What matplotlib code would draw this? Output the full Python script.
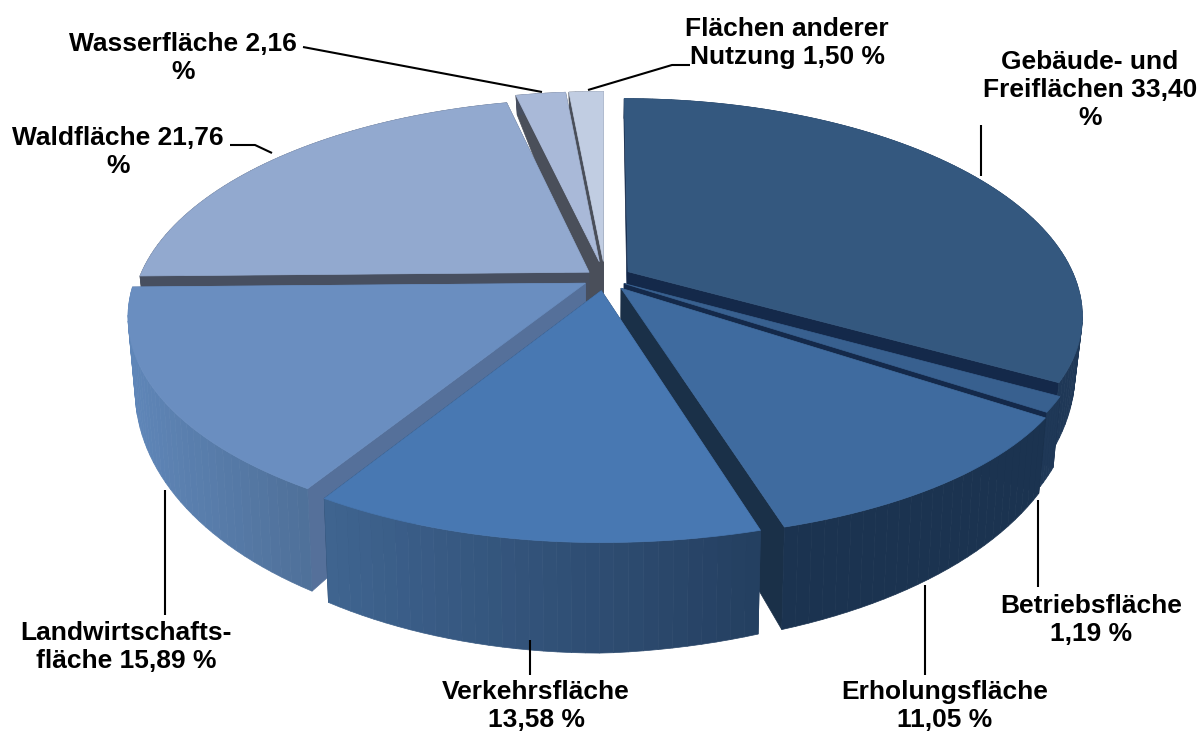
import numpy as np
import matplotlib
matplotlib.use("Agg")
import matplotlib.pyplot as plt
from matplotlib.colors import to_rgb

labels = ["Gebäude- und\nFreiflächen 33,40\n%", "Betriebsfläche\n1,19 %", "Erholungsfläche\n11,05 %",
          "Verkehrsfläche\n13,58 %", "Landwirtschafts-\nfläche 15,89 %", "Waldfläche 21,76\n%",
          "Wasserfläche 2,16\n%", "Flächen anderer\nNutzung 1,50 %"]
values = [33.40, 1.19, 11.05, 13.58, 15.89, 21.76, 2.16, 1.50]
explode = [0.06, 0.05, 0.06, 0.06, 0.05, 0.045, 0.08, 0.08]
top_colors = ["#34587F", "#38608F", "#3F6B9F", "#4878B2", "#6A8EC0", "#92A9CF", "#A9B9D8", "#C1CDE2"]
rim_a = ["#1F3857", "#1F3857", "#1B3350", "#3F6490", "#5F86B8", "#474F60", "#474F60", "#4A4F5A"]
rim_b = ["#1F3857", "#1F3857", "#1B3350", "#243F60", "#4F7099", "#474F60", "#474F60", "#4A4F5A"]
wall_colors = ["#14294A", "#14294A", "#1A3048", "#263F5E", "#55709A", "#474F60", "#4A4F5A", "#4A4F5A"]

label_pos = [(1090, 90), (1091, 620), (945, 706), (536, 706), (126, 647), (118, 152), (183, 58), (787, 43)]
leaders = [[(981, 125), (981, 176)], [(1038, 500), (1038, 587)], [(925, 585), (925, 675)], [(530, 640), (530, 675)],
           [(165, 490), (165, 615)], [(230, 145), (255, 145), (272, 153)], [(303, 47), (542, 92)],
           [(690, 65), (672, 65), (588, 90)]]

CX, CY, A_LEFT, A_RIGHT, B, K_BACK, K_FRONT, K_FRONT_RIGHT = 605, 278, 450, 447, 210, 0.2, 0.15, 0.2


def project(u, v):
    sy = 1 / (1 + (K_BACK if v > 0 else K_FRONT) * v)
    sx = 1 / (1 + (K_FRONT_RIGHT if (v <= 0 and u > 0) else K_BACK if v > 0 else K_FRONT) * v)
    return CX + (A_RIGHT if u > 0 else A_LEFT) * u * sx, CY - B * v * sy


def lower(u, v):
    x, y = project(u, v)
    return CX + (x - CX) * 0.985, y + 65 - 43 * v - 18 * max(u, 0)


fig = plt.figure(figsize=(12.03, 7.34), dpi=100)
ax = fig.add_axes([0, 0, 1, 1])
ax.set_xlim(0, 1203)
ax.set_ylim(734, 0)
ax.axis("off")

edges = np.concatenate([[0], np.cumsum(values)]) / sum(values) * 2 * np.pi
mids = (edges[:-1] + edges[1:]) / 2
order = np.argsort(-np.cos(mids))


def quad(p, color, z):
    ax.fill([q[0] for q in p], [q[1] for q in p], fc=color, ec=color, lw=0.5, zorder=z)


for z, i in enumerate(order):
    t0, t1, m = edges[i], edges[i + 1], mids[i]
    ox, oy = explode[i] * np.sin(m), explode[i] * np.cos(m)
    th = np.linspace(t0, t1, max(6, int((t1 - t0) * 40)))
    us, vs = ox + np.sin(th), oy + np.cos(th)
    # radial walls
    for t in (t0, t1):
        ue, ve = ox + np.sin(t), oy + np.cos(t)
        quad([project(ox, oy), project(ue, ve), lower(ue, ve), lower(ox, oy)], wall_colors[i], z * 3)
    # outer rim, coloured piece by piece from left to right
    ca, cb = np.array(to_rgb(rim_a[i])), np.array(to_rgb(rim_b[i]))
    xs = np.array([project(a, b)[0] for a, b in zip(us, vs)])
    for k in range(len(th) - 1):
        f = (0.5 * (xs[k] + xs[k + 1]) - xs.min()) / max(1, xs.max() - xs.min())
        c = tuple(ca + (cb - ca) * f)
        quad([project(us[k], vs[k]), project(us[k + 1], vs[k + 1]),
              lower(us[k + 1], vs[k + 1]), lower(us[k], vs[k])], c, z * 3 + 1)
    # top face
    pts = [project(ox, oy)] + [project(a, b) for a, b in zip(us, vs)]
    quad(pts, top_colors[i], z * 3 + 2)

for line in leaders:
    ax.plot([p[0] for p in line], [p[1] for p in line], color="black", lw=1.5, zorder=100, solid_capstyle="butt")
for lab, (x, y) in zip(labels, label_pos):
    ax.text(x, y, lab, ha="center", va="center", family="Liberation Sans", weight="bold", fontsize=19,
            linespacing=1.22, color="black", zorder=101)

fig.savefig("out.png", dpi=100, facecolor="white")
